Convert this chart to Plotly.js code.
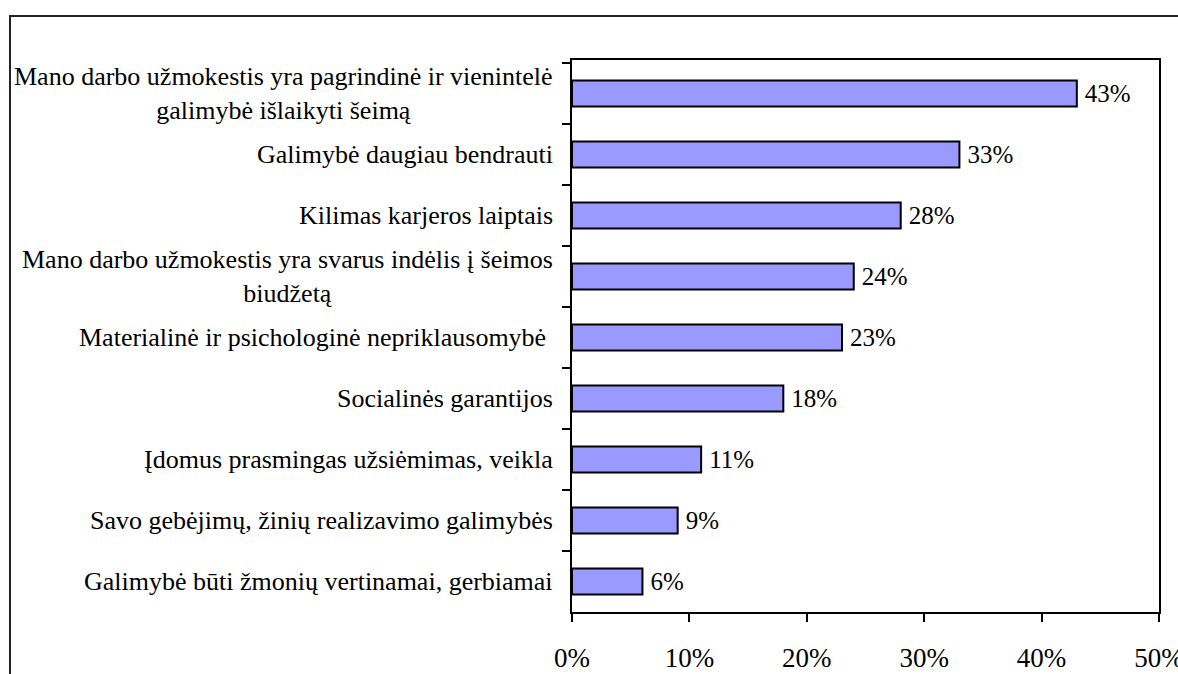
<!DOCTYPE html>
<html>
<head>
<meta charset="utf-8">
<script src="https://cdn.plot.ly/plotly-3.0.1.min.js"></script>
<style>
  body { margin: 0; overflow: hidden; background: #fff; font-family: 'Liberation Serif', serif; }
  #frame { position: absolute; left: 9px; top: 15px; width: 1300px; height: 800px; border: 2px solid #222; }
  #barplot { position: absolute; left: 0; top: 0; width: 1178px; height: 674px; }
</style>
</head>
<body>
<div id="frame"></div>
<div id="barplot"></div>
<script>
BAR = document.getElementById('barplot');

var reasons = [
    'Mano darbo užmokestis yra pagrindinė ir vienintelė<br>galimybė išlaikyti šeimą',
    'Galimybė daugiau bendrauti',
    'Kilimas karjeros laiptais',
    'Mano darbo užmokestis yra svarus indėlis į šeimos<br>biudžetą',
    'Materialinė ir psichologinė nepriklausomybė\u00A0',
    'Socialinės garantijos',
    'Įdomus prasmingas užsiėmimas, veikla',
    'Savo gebėjimų, žinių realizavimo galimybės',
    'Galimybė būti žmonių vertinamai, gerbiamai'
];
var shares = [43, 33, 28, 24, 23, 18, 11, 9, 6];
var ticks = [0, 10, 20, 30, 40, 50];

var fontName = '"Liberation Serif", serif';

var data = [{
    type: 'bar',
    orientation: 'h',
    x: shares,
    y: reasons,
    width: 0.43,
    marker: {color: '#9999FF', line: {color: '#000000', width: 2}},
    texttemplate: '\u2009%{x}%',
    textposition: 'outside',
    constraintext: 'none',
    cliponaxis: false,
    textfont: {family: fontName, size: 25, color: '#000000'},
    hoverinfo: 'skip'
}];

// category labels: right aligned block, lines centred like the original
var labels = [];
for (let i = 0; i < reasons.length; i++) {
    labels.push({
        xref: 'paper', yref: 'y',
        x: 0, y: reasons[i],
        xanchor: 'right', yanchor: 'middle',
        xshift: -17,
        align: 'center',
        showarrow: false,
        text: reasons[i],
        font: {family: fontName, size: 26, color: '#000000'}
    });
}

var layout = {
    width: 1178,
    height: 674,
    margin: {l: 572, r: 19, t: 60, b: 62},
    paper_bgcolor: 'rgba(0,0,0,0)',
    plot_bgcolor: '#ffffff',
    showlegend: false,
    font: {family: fontName, color: '#000000'},
    bargap: 0.57,
    xaxis: {
        range: [0, 50],
        tickvals: ticks,
        ticktext: ticks.map(function (t) { return t + '%'; }),
        ticks: 'outside',
        ticklen: 8,
        tickwidth: 2,
        tickcolor: '#000000',
        ticklabelstandoff: 13,
        ticklabeloverflow: 'allow',
        showline: true,
        linecolor: '#000000',
        linewidth: 2,
        mirror: true,
        showgrid: false,
        zeroline: false,
        tickfont: {family: fontName, size: 27, color: '#000000'}
    },
    yaxis: {
        autorange: 'reversed',
        type: 'category',
        tickson: 'boundaries',
        ticks: 'outside',
        ticklen: 8,
        tickwidth: 2,
        tickcolor: '#000000',
        showticklabels: false,
        showline: true,
        linecolor: '#000000',
        linewidth: 2,
        mirror: true,
        showgrid: false,
        zeroline: false
    },
    annotations: labels
};

Plotly.newPlot(BAR, data, layout, {staticPlot: true});
</script>
</body>
</html>
